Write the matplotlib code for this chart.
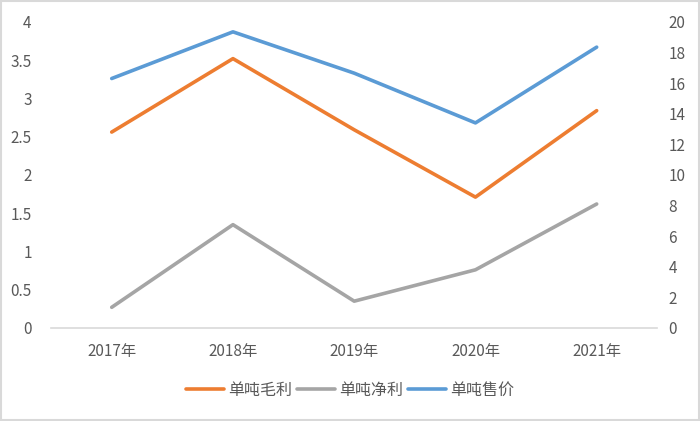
import numpy as np
import matplotlib
matplotlib.use('Agg')
import matplotlib.pyplot as plt
from matplotlib.patches import Rectangle

plt.rcParams['font.family'] = ['Noto Sans CJK SC', 'DejaVu Sans']

years = ['2017年', '2018年', '2019年', '2020年', '2021年']
gross_profit = [2.56, 3.52, 2.59, 1.71, 2.84]   # 单吨毛利, left axis
net_profit = [0.27, 1.35, 0.35, 0.76, 1.62]     # 单吨净利, left axis
price = [16.3, 19.35, 16.65, 13.4, 18.35]       # 单吨售价, right axis

left_ticks = [0, 0.5, 1, 1.5, 2, 2.5, 3, 3.5, 4]
right_ticks = [0, 2, 4, 6, 8, 10, 12, 14, 16, 18, 20]

txt = '#595959'
fig = plt.figure(figsize=(7, 4.21), dpi=100)
ax = fig.add_axes([0.073, 0.221, 0.866, 0.727])
ax2 = ax.twinx()

x = np.arange(len(years))
l1, = ax.plot(x, gross_profit, color='#ED7D31', lw=2.6, solid_capstyle='round', label='单吨毛利')
l2, = ax.plot(x, net_profit, color='#A5A5A5', lw=2.6, solid_capstyle='round', label='单吨净利')
l3, = ax2.plot(x, price, color='#5B9BD5', lw=2.6, solid_capstyle='round', label='单吨售价')

ax.set_xlim(-0.5, 4.5)
ax.set_ylim(0, 4)
ax2.set_ylim(0, 20)
ax.set_yticks(left_ticks)
ax.set_yticklabels([f'{t:g}' for t in left_ticks])
ax2.set_yticks(right_ticks)
ax.set_xticks(x)
ax.set_xticklabels(years)

for a in (ax, ax2):
    for s in a.spines.values():
        s.set_visible(False)
    a.tick_params(length=0, colors=txt, labelsize=11)
ax.spines['bottom'].set_visible(True)
ax.spines['bottom'].set_color('#D9D9D9')
ax.spines['bottom'].set_linewidth(1.2)
ax.tick_params(axis='x', pad=11)
ax.tick_params(axis='y', pad=14)
ax2.tick_params(axis='y', pad=8)

leg = fig.legend(handles=[l1, l2, l3], loc='center', bbox_to_anchor=(0.5, 0.073),
                 ncol=3, frameon=False, fontsize=11.5, handlelength=2.4,
                 columnspacing=0.3, handletextpad=0.25)
for t in leg.get_texts():
    t.set_color(txt)

fig.patches.append(Rectangle((0.002, 0.003), 0.996, 0.994, transform=fig.transFigure,
                             fill=False, edgecolor='#D9D9D9', lw=1.5))

fig.savefig('out.png', dpi=100)
